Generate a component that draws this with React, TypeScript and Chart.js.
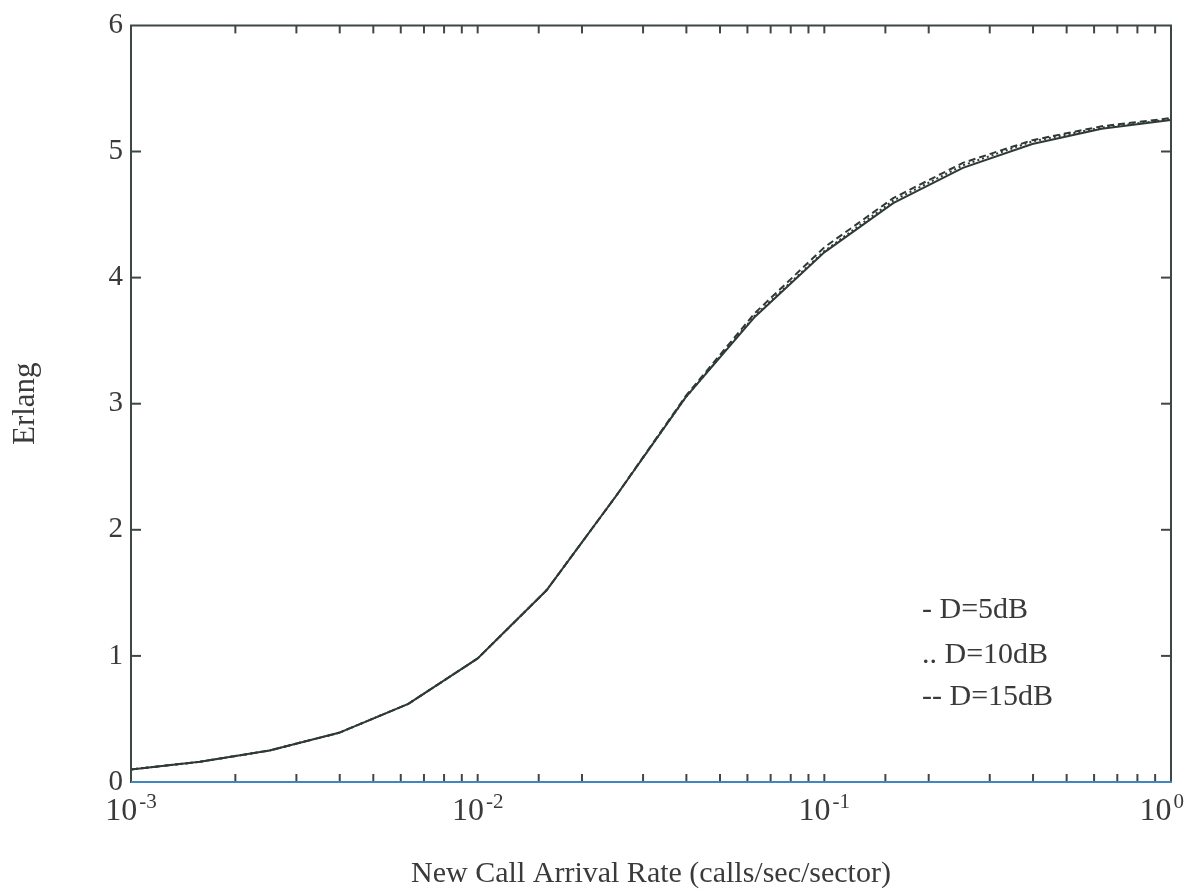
import React, { useEffect, useRef } from "react";
import { Chart, registerables } from "chart.js";

Chart.register(...registerables);

// ---- Data ----
const arrivalRates = [
  0.001, 0.00158, 0.00251, 0.00398, 0.00631, 0.01, 0.0158, 0.0251, 0.0398,
  0.0631, 0.1, 0.158, 0.251, 0.398, 0.631, 1.0,
];
const erlang5dB = [
  0.1, 0.16, 0.25, 0.39, 0.62, 0.98, 1.52, 2.27, 3.05, 3.69, 4.2, 4.59, 4.87,
  5.06, 5.18, 5.25,
];
const erlang10dB = [
  0.1, 0.16, 0.25, 0.39, 0.62, 0.98, 1.52, 2.27, 3.05, 3.7, 4.21, 4.61, 4.89,
  5.08, 5.19, 5.255,
];
const erlang15dB = [
  0.1, 0.16, 0.25, 0.39, 0.62, 0.98, 1.52, 2.27, 3.06, 3.72, 4.24, 4.63, 4.91,
  5.09, 5.2, 5.265,
];
const xDecadeExponents = [-3, -2, -1, 0];
const yTickValues = [0, 1, 2, 3, 4, 5, 6];
const legendLabels = ["- D=5dB", ".. D=10dB", "-- D=15dB"];
const seriesNames = ["D=5dB", "D=10dB", "D=15dB"];
const xTitle = "New Call Arrival Rate (calls/sec/sector)";
const yTitle = "Erlang";

const FONT = '"Liberation Serif", "Times New Roman", serif';
const LINE = "#2f3a34";
const AXIS = "#3d4843";
const TEXT = "#3a3a3a";
const BOTTOM_AXIS = "#3f88bf";

const framePlugin = {
  id: "framePlugin",
  afterDraw(chart: any) {
    const { ctx, chartArea, scales } = chart;
    const { left, right, top, bottom } = chartArea;
    const x = scales.x;
    const y = scales.y;
    ctx.save();
    ctx.lineWidth = 2;
    const seg = (x1: number, y1: number, x2: number, y2: number, c?: string) => {
      ctx.beginPath();
      ctx.strokeStyle = c || AXIS;
      ctx.moveTo(x1, y1);
      ctx.lineTo(x2, y2);
      ctx.stroke();
    };
    // inward x ticks, bottom and top
    x.ticks.forEach((t: any) => {
      const px = x.getPixelForValue(t.value);
      if (px < left + 2 || px > right - 2) return;
      seg(px, bottom, px, bottom - 8);
      seg(px, top, px, top + 8);
    });
    // inward y ticks, left and right
    y.ticks.forEach((t: any) => {
      const py = y.getPixelForValue(t.value);
      if (py < top + 2 || py > bottom - 2) return;
      seg(left, py, left + 10, py);
      seg(right, py, right - 10, py);
    });
    // frame
    seg(left, bottom + 1, left, top);
    seg(left - 1, top, right + 1, top);
    seg(right, top, right, bottom + 1);
    seg(left, bottom, right + 1, bottom, BOTTOM_AXIS);

    // x decade labels with superscript exponents
    ctx.fillStyle = TEXT;
    ctx.textBaseline = "alphabetic";
    ctx.textAlign = "left";
    xDecadeExponents.forEach((e) => {
      const px = x.getPixelForValue(Math.pow(10, e));
      ctx.font = `32px ${FONT}`;
      const w1 = ctx.measureText("10").width;
      ctx.font = `21px ${FONT}`;
      const sup = String(e);
      const w2 = ctx.measureText(sup).width;
      const gap = 2;
      const total = w1 + gap + w2;
      let start = px - total / 2;
      if (start + total > chart.width - 8) start = chart.width - 8 - total;
      ctx.font = `32px ${FONT}`;
      ctx.fillText("10", start, bottom + 38);
      ctx.font = `21px ${FONT}`;
      ctx.fillText(sup, start + w1 + gap, bottom + 26);
    });

    // legend text
    ctx.font = `30px ${FONT}`;
    ctx.textBaseline = "middle";
    const lx = 922;
    const lys = [610, 655, 697];
    legendLabels.forEach((lab, i) => {
      ctx.fillText(lab, lx, lys[i]);
    });
    ctx.restore();
  },
};

export default function App() {
  const ref = useRef<HTMLCanvasElement | null>(null);
  useEffect(() => {
    if (!ref.current) return;
    const mk = (vals: number[]) => arrivalRates.map((r, i) => ({ x: r, y: vals[i] }));
    const chart = new Chart(ref.current, {
      type: "line",
      data: {
        datasets: [
          {
            label: seriesNames[0],
            data: mk(erlang5dB),
            borderColor: LINE,
            borderWidth: 2,
            pointRadius: 0,
            tension: 0,
            fill: false,
          },
          {
            label: seriesNames[1],
            data: mk(erlang10dB),
            borderColor: LINE,
            borderWidth: 2,
            borderDash: [2, 3],
            pointRadius: 0,
            tension: 0,
            fill: false,
          },
          {
            label: seriesNames[2],
            data: mk(erlang15dB),
            borderColor: LINE,
            borderWidth: 2,
            borderDash: [7, 4],
            pointRadius: 0,
            tension: 0,
            fill: false,
          },
        ],
      },
      options: {
        animation: false,
        responsive: false,
        devicePixelRatio: 1,
        layout: { padding: { top: 21, right: 21, left: 0, bottom: 0 } },
        plugins: {
          legend: { display: false },
          tooltip: { enabled: false },
          title: { display: false },
        },
        scales: {
          x: {
            type: "logarithmic",
            min: 0.001,
            max: 1,
            grid: { display: false, drawTicks: false },
            border: { display: false },
            ticks: { display: false },
            title: {
              display: true,
              text: xTitle,
              color: TEXT,
              font: { family: FONT, size: 30 },
              padding: { top: 0, bottom: 3 },
            },
            afterFit: (s: any) => {
              s.height = 113;
            },
          },
          y: {
            type: "linear",
            min: 0,
            max: 6,
            grid: { display: false, drawTicks: false },
            border: { display: false },
            afterBuildTicks: (s: any) => {
              s.ticks = yTickValues.map((v) => ({ value: v }));
            },
            ticks: {
              color: TEXT,
              font: { family: FONT, size: 29 },
              padding: 8,
              callback: (v: any) => String(v),
            },
            title: {
              display: true,
              text: yTitle,
              color: TEXT,
              font: { family: FONT, size: 31 },
              padding: { top: 7, bottom: 0 },
            },
            afterFit: (s: any) => {
              s.width = 131;
            },
          },
        },
      },
      plugins: [framePlugin],
    });
    return () => chart.destroy();
  }, []);
  return (
    <div style={{ position: "absolute", left: 0, top: 0, width: 1192, height: 895, background: "#fff" }}>
      <canvas ref={ref} width={1192} height={895} style={{ display: "block" }} />
    </div>
  );
}
